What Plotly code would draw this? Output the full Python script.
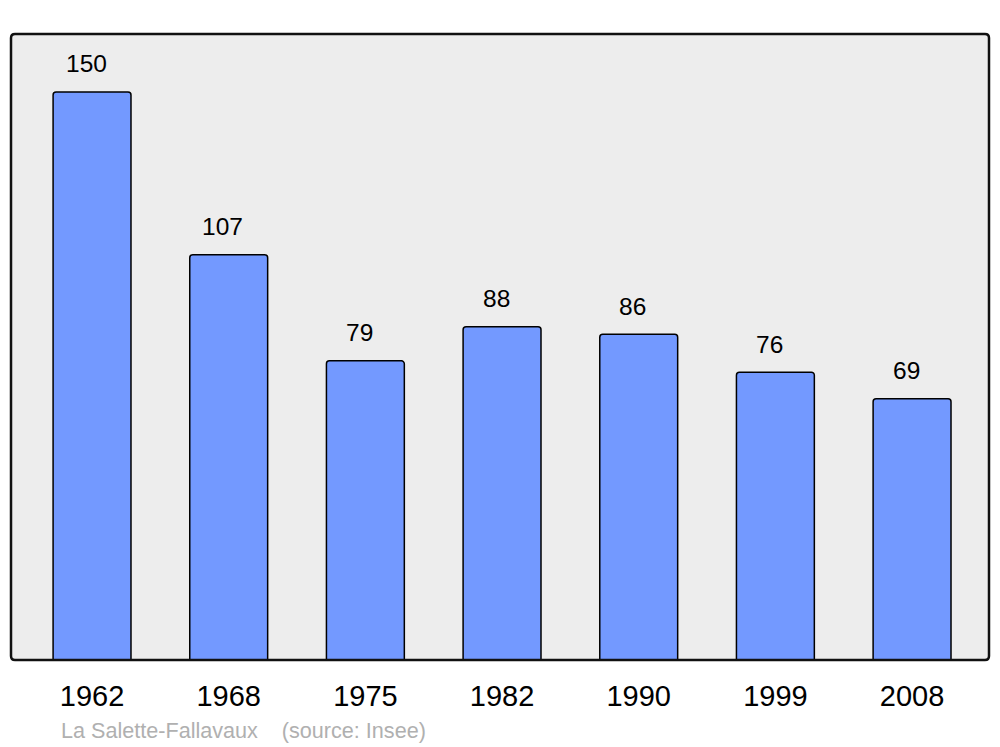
import plotly.graph_objects as go

years = ["1962", "1968", "1975", "1982", "1990", "1999", "2008"]
population = [150, 107, 79, 88, 86, 76, 69]
source_text = "La Salette-Fallavaux    (source: Insee)"

W, H = 1000, 747
ml, mr, mt, mb = 11, 11, 34, 87
pw, ph = W - ml - mr, H - mt - mb

fig = go.Figure(go.Bar(
    x=years, y=population, width=0.57,
    marker=dict(color="#7399ff", line=dict(color="#000000", width=1.5), cornerradius=3),
    hoverinfo="skip",
))

for i, v in enumerate(population):
    fig.add_annotation(x=i, y=v, text=str(v), showarrow=False, yanchor="middle",
                       yshift=28, xshift=-6,
                       font=dict(family="Liberation Sans, Arial, sans-serif", size=24.5, color="#000"))

fig.add_annotation(xref="paper", yref="paper", x=(59 - ml) / pw, y=(660 - 730) / ph,
                   xanchor="left", yanchor="middle", showarrow=False, text=source_text,
                   font=dict(family="Liberation Sans, Arial, sans-serif", size=21.6, color="#b0b0b0"))

# rounded frame
r = 4
rx, ry = r / pw, r / ph
path = (f"M {rx} 0 L {1-rx} 0 Q 1 0 1 {ry} L 1 {1-ry} Q 1 1 {1-rx} 1 "
        f"L {rx} 1 Q 0 1 0 {1-ry} L 0 {ry} Q 0 0 {rx} 0 Z")
fig.add_shape(type="path", xref="paper", yref="paper", path=path,
              line=dict(color="#111111", width=2.5), fillcolor="rgba(0,0,0,0)", layer="above")

fig.update_layout(
    width=W, height=H, margin=dict(l=ml, r=mr, t=mt, b=mb),
    paper_bgcolor="#ffffff", plot_bgcolor="#ededed", showlegend=False,
    font=dict(family="Liberation Sans, Arial, sans-serif"),
    xaxis=dict(type="category", range=[-0.593, 6.563], showgrid=False, zeroline=False,
               ticks="outside", ticklen=10, tickcolor="rgba(0,0,0,0)",
               tickfont=dict(size=29, color="#000")),
    yaxis=dict(range=[0, 165.3], showgrid=False, zeroline=False, showticklabels=False),
)

fig.write_html("out.html", config={"displayModeBar": False},
               post_script="document.body.style.margin='0';document.body.style.overflow='hidden';")
